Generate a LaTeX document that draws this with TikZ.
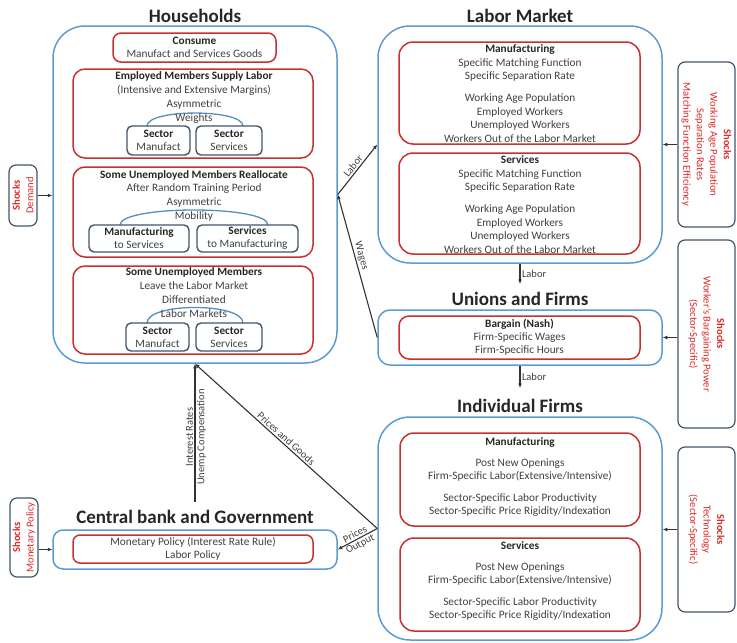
\documentclass[tikz,border=0pt]{standalone}
\usepackage{fontspec}
\setmainfont{Carlito}
\usetikzlibrary{arrows.meta,calc}
\definecolor{bblue}{RGB}{91,155,213}
\definecolor{rred}{RGB}{200,48,48}
\definecolor{slate}{RGB}{68,84,106}
\definecolor{txtg}{RGB}{64,64,64}
\definecolor{shred}{RGB}{222,40,40}
\newcommand{\hd}[1]{{\color{black!85}\bfseries #1}}
\begin{document}
\begin{tikzpicture}[x=1pt,y=-1pt,
  bluebox/.style={draw=bblue, line width=1.5pt, inner sep=0pt, rectangle},
  redbox/.style={draw=rred, line width=1.5pt, inner sep=0pt, rectangle, rounded corners=12pt,
     align=center, text=txtg, font=\fontsize{11.3}{13.5}\selectfont},
  subbox/.style={draw=slate, line width=1.4pt, inner sep=0pt, rectangle, rounded corners=5pt,
     align=center, text=txtg, font=\fontsize{11.3}{13}\selectfont},
  shockbox/.style={draw=slate, line width=1.2pt, inner sep=0pt, rectangle, rounded corners=7pt,
     align=center, text=shred, font=\fontsize{10.6}{13.5}\selectfont},
  ttl/.style={font=\bfseries\fontsize{19}{22}\selectfont, text=black!85, inner sep=0pt},
  txt/.style={font=\fontsize{11.3}{13.5}\selectfont, text=txtg, inner sep=0pt, align=center},
  lbl/.style={font=\fontsize{10.5}{12}\selectfont, text=txtg, inner sep=1.5pt},
  arcline/.style={draw=bblue!80!slate, line width=1.3pt},
  arr/.style={draw=black!80, line width=1.1pt, -{Latex[length=4.5pt,width=4pt]}}
]
\useasboundingbox (0,0) rectangle (737,643);

% ---------------- Households ----------------
\node[ttl] (hh-t) at (195,16) {Households};
\node[bluebox, rounded corners=32pt, minimum width=284pt, minimum height=337pt] (hh) at (195,194.5) {};

\node[redbox, rounded corners=8pt, minimum width=163pt, minimum height=29pt] (cons) at (194.5,47.5)
  {\hd{Consume}\\[-0.5pt]Manufact and Services Goods};

\node[redbox, minimum width=240pt, minimum height=89pt] (emp) at (193,113.5) {};
\draw[arcline] (147,126) .. controls (147,108.7) and (243,108.7) .. (243,126);
\node[txt, font=\fontsize{11.3}{14}\selectfont] (emp-t) at (194,98)
  {\hd{Employed Members Supply Labor}\\(Intensive and Extensive Margins)\\Asymmetric\\Weights};
\node[subbox, minimum width=63pt, minimum height=29pt] (emp-a) at (158.5,140.5) {\hd{Sector}\\Manufact};
\node[subbox, minimum width=66pt, minimum height=29pt] (emp-b) at (229,140.5) {\hd{Sector}\\Services};

\node[redbox, minimum width=240pt, minimum height=90pt] (rea) at (193,212) {};
\draw[arcline] (120,225) .. controls (120,205) and (268,205) .. (268,225);
\node[txt, font=\fontsize{11.3}{13.7}\selectfont] (rea-t) at (194,195.5)
  {\hd{Some Unemployed Members Reallocate}\\After Random Training Period\\Asymmetric\\Mobility};
\node[subbox, minimum width=100pt, minimum height=27pt] (rea-a) at (139,238.5) {\hd{Manufacturing}\\to Services};
\node[subbox, minimum width=101pt, minimum height=27pt] (rea-b) at (247.5,238.5) {\hd{Services}\\to Manufacturing};

\node[redbox, minimum width=240pt, minimum height=88pt] (lea) at (193,310) {};
\draw[arcline] (147,323) .. controls (147,302.3) and (243,302.3) .. (243,323);
\node[txt, font=\fontsize{11.3}{14}\selectfont] (lea-t) at (194,293)
  {\hd{Some Unemployed Members}\\Leave the Labor Market\\Differentiated\\Labor Markets};
\node[subbox, minimum width=63pt, minimum height=28pt] (lea-a) at (157.5,337) {\hd{Sector}\\Manufact};
\node[subbox, minimum width=66pt, minimum height=28pt] (lea-b) at (229,337) {\hd{Sector}\\Services};

% ---------------- Labor Market ----------------
\node[ttl] (lm-t) at (520,16) {Labor Market};
\node[bluebox, rounded corners=32pt, minimum width=284pt, minimum height=237pt] (lm) at (520,144.5) {};

\node[redbox, rounded corners=14pt, minimum width=241pt, minimum height=102pt] (lm-m) at (519.5,93) {};
\node[txt] (lm-mt) at (520,93.5)
  {\hd{Manufacturing}\\Specific Matching Function\\Specific Separation Rate\\[8.5pt]Working Age Population\\Employed Workers\\Unemployed Workers\\Workers Out of the Labor Market};

\node[redbox, rounded corners=14pt, minimum width=241pt, minimum height=101pt] (lm-s) at (519.5,203.5) {};
\node[txt] (lm-st) at (520,204.5)
  {\hd{Services}\\Specific Matching Function\\Specific Separation Rate\\[8.5pt]Working Age Population\\Employed Workers\\Unemployed Workers\\Workers Out of the Labor Market};

% ---------------- Unions and Firms ----------------
\node[ttl] (un-t) at (520,299) {Unions and Firms};
\node[bluebox, rounded corners=12pt, minimum width=284pt, minimum height=55pt] (un) at (520,337.5) {};
\node[redbox, rounded corners=10pt, minimum width=241pt, minimum height=43pt] (un-r) at (519.5,337.5)
  {\hd{Bargain (Nash)}\\[-0.5pt]Firm-Specific Wages\\[-0.5pt]Firm-Specific Hours};

% ---------------- Individual Firms ----------------
\node[ttl] (if-t) at (520,406) {Individual Firms};
\node[bluebox, rounded corners=32pt, minimum width=284pt, minimum height=223pt] (if) at (520,528.5) {};

\node[redbox, rounded corners=14pt, minimum width=240pt, minimum height=93pt] (if-m) at (520,479.5) {};
\node[txt] (if-mt) at (520,477)
  {\hd{Manufacturing}\\[7.5pt]Post New Openings\\[-0.5pt]Firm-Specific Labor(Extensive/Intensive)\\[8.5pt]Sector-Specific Labor Productivity\\[-0.5pt]Sector-Specific Price Rigidity/Indexation};

\node[redbox, rounded corners=14pt, minimum width=240pt, minimum height=93pt] (if-s) at (520,584.5) {};
\node[txt] (if-st) at (520,581)
  {\hd{Services}\\[7.5pt]Post New Openings\\[-0.5pt]Firm-Specific Labor(Extensive/Intensive)\\[8.5pt]Sector-Specific Labor Productivity\\[-0.5pt]Sector-Specific Price Rigidity/Indexation};

% ---------------- Central bank ----------------
\node[ttl] (cb-t) at (195,517) {Central bank and Government};
\node[bluebox, rounded corners=10pt, minimum width=284pt, minimum height=39pt] (cb) at (195,549.5) {};
\node[redbox, rounded corners=7pt, minimum width=240pt, minimum height=28pt] (cb-r) at (193,549)
  {Monetary Policy (Interest Rate Rule)\\[-1pt]Labor Policy};

% ---------------- Shocks ----------------
\node[shockbox, rotate=90, minimum width=61pt, minimum height=28pt] (sd) at (23,195.5) {\textbf{Shocks}\\Demand};
\node[shockbox, rotate=90, minimum width=79pt, minimum height=28pt] (sm) at (24,537.5) {\textbf{Shocks}\\Monetary Policy};
\node[shockbox, rotate=-90, minimum width=165pt, minimum height=57pt] (r1) at (706.5,144.5) {\textbf{Shocks}\\Working Age Population\\Separation Rates\\Matching Function Efficiency};
\node[shockbox, rotate=-90, minimum width=188pt, minimum height=57pt] (r2) at (706.5,334) {\textbf{Shocks}\\Worker's Bargaining Power\\(Sector-Specific)};
\node[shockbox, rotate=-90, minimum width=165pt, minimum height=57pt] (r3) at (706.5,529.5) {\textbf{Shocks}\\Technology\\(Sector-Specific)};

\draw[arr] (sd.south) -- (sd.south -| hh.west);
\draw[arr] (sm.south |- cb.west) -- (cb.west);
\draw[arr] (r1.south) -- (r1.south -| lm.east);
\draw[arr] (r2.south |- un.east) -- (un.east);
\draw[arr] (r3.south) -- (r3.south -| if.east);

% ---------------- Flows ----------------
\coordinate (lab1) at (520,284);
\coordinate (lab2) at (520,388);
\coordinate (cbup) at (195,502);
\draw[arr] (lm.south) -- node[lbl, right] {Labor} (lab1);
\draw[arr] (un.south) -- node[lbl, right] {Labor} (lab2);
\draw[arr] (hh.east) -- node[lbl, sloped, above] {Labor} (lm.west);
\draw[arr] (un.west) -- node[lbl, sloped, above, pos=0.56] {Wages} (hh.east);
\draw[arr] (cbup) -- node[lbl, sloped, above, pos=0.47] {Interest Rates} node[lbl, sloped, below, pos=0.47] {Unemp Compensation} (hh.south);
\draw[arr] (if.west) -- node[lbl, sloped, above, pos=0.52] {Prices and Goods} (hh.south);
\draw[arr] (if.west) -- node[lbl, sloped, above] {Prices} node[lbl, sloped, below] {Output} (cb.east);
\end{tikzpicture}
\end{document}
